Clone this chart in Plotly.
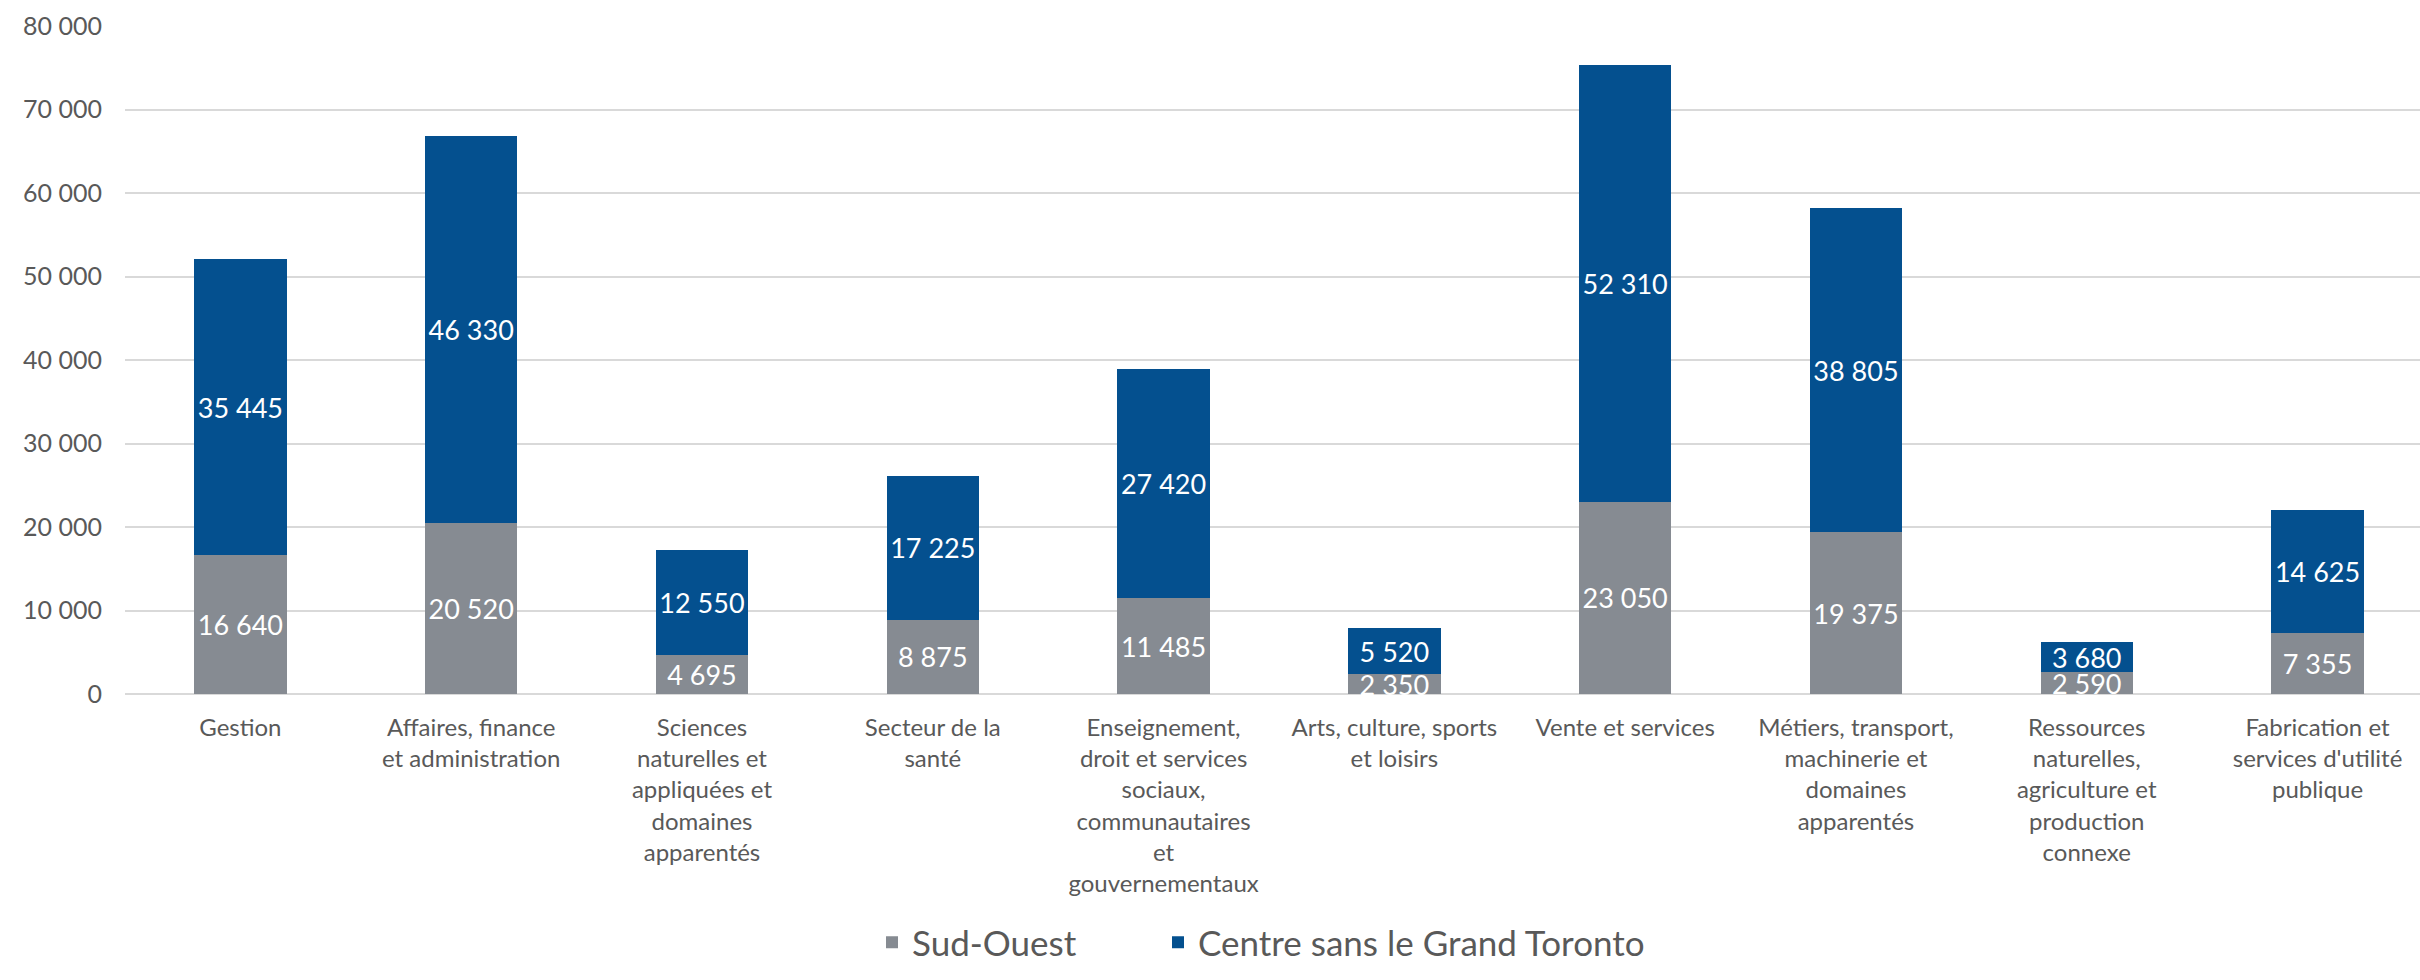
import plotly.graph_objects as go

categories = [
    "Gestion",
    "Affaires, finance<br>et administration",
    "Sciences<br>naturelles et<br>appliquées et<br>domaines<br>apparentés",
    "Secteur de la<br>santé",
    "Enseignement,<br>droit et services<br>sociaux,<br>communautaires<br>et<br>gouvernementaux",
    "Arts, culture, sports<br>et loisirs",
    "Vente et services",
    "Métiers, transport,<br>machinerie et<br>domaines<br>apparentés",
    "Ressources<br>naturelles,<br>agriculture et<br>production<br>connexe",
    "Fabrication et<br>services d'utilité<br>publique",
]
sud_ouest = [16640, 20520, 4695, 8875, 11485, 2350, 23050, 19375, 2590, 7355]
centre = [35445, 46330, 12550, 17225, 27420, 5520, 52310, 38805, 3680, 14625]
y_ticks = [0, 10000, 20000, 30000, 40000, 50000, 60000, 70000, 80000]

FONT = "Lato"
GREY = "#868B92"
BLUE = "#04508F"
TXT = "#595959"

def fmt(v):
    return f"{v:,}".replace(",", " ")

x = list(range(len(categories)))

fig = go.Figure()
fig.add_trace(go.Bar(
    x=x, y=sud_ouest, name="Sud-Ouest", marker=dict(color=GREY, line=dict(width=0)),
    text=[fmt(v) for v in sud_ouest], textposition="inside", insidetextanchor="middle",
    textfont=dict(color="white", size=27, family=FONT), textangle=0,
    cliponaxis=False, legend="legend",
))
fig.add_trace(go.Bar(
    x=x, y=centre, name="Centre sans le Grand Toronto", marker=dict(color=BLUE, line=dict(width=0)),
    text=[fmt(v) for v in centre], textposition="inside", insidetextanchor="middle",
    textfont=dict(color="white", size=27, family=FONT), textangle=0,
    cliponaxis=False, legend="legend2",
))

legend_common = dict(
    orientation="h", yanchor="middle", y=-0.3726, xanchor="left",
    font=dict(size=35, color=TXT, family=FONT), bgcolor="rgba(0,0,0,0)",
)

fig.update_layout(
    barmode="stack",
    bargap=0.6,
    width=2420, height=972,
    margin=dict(l=125, r=0, t=26, b=267),
    paper_bgcolor="white", plot_bgcolor="white",
    font=dict(family=FONT, color=TXT, size=24),
    uniformtext=dict(minsize=27, mode="show"),
    legend=dict(x=0.3255, **legend_common),
    legend2=dict(x=0.4501, **legend_common),
    showlegend=True,
)
fig.update_xaxes(
    tickmode="array", tickvals=x, ticktext=categories,
    range=[-0.5, 9.444], showgrid=False, zeroline=False,
    showline=False, ticks="", tickangle=0,
    tickfont=dict(size=24, color=TXT, family=FONT),
    ticklabelstandoff=17,
)
fig.update_yaxes(
    range=[0, 80000], tickmode="array", tickvals=y_ticks,
    ticktext=[fmt(v) for v in y_ticks],
    showgrid=True, gridcolor="#D9D9D9", gridwidth=2,
    zeroline=True, zerolinecolor="#D9D9D9", zerolinewidth=2,
    showline=False, ticks="",
    tickfont=dict(size=25, color=TXT, family=FONT),
    ticklabelstandoff=22,
)

fig.write_html(
    "out.html",
    config={"displayModeBar": False},
    post_script="document.body.style.margin='0px';document.body.style.overflow='hidden';",
)
